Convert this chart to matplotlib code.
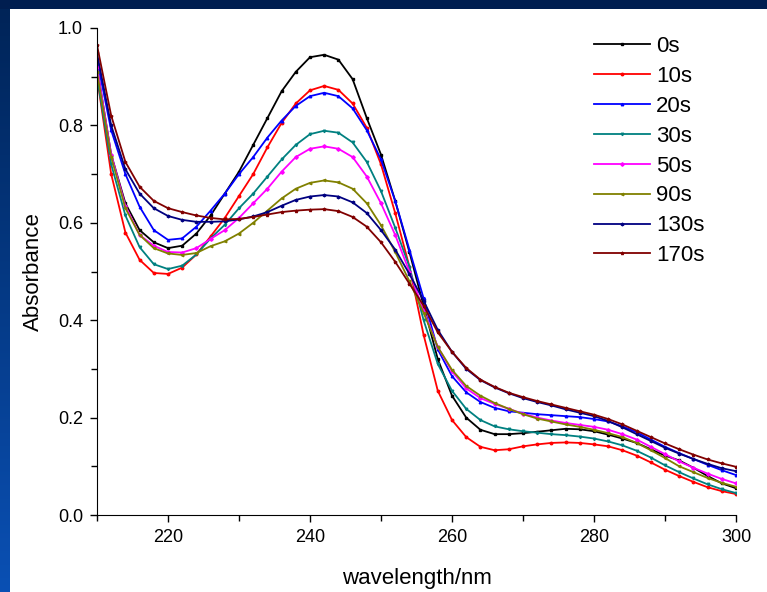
import matplotlib
matplotlib.use("Agg")
import matplotlib.pyplot as plt
import numpy as np

plt.rcParams['font.family'] = ['Liberation Sans', 'DejaVu Sans']

# wavelength grid (nm), one reading every 2 nm
wavelength = np.arange(210, 301, 2)

labels = ['0s', '10s', '20s', '30s', '50s', '90s', '130s', '170s']
colors = ['#000000', '#FF0000', '#0000FF', '#008080', '#FF00FF', '#808000', '#000080', '#800000']
markers = ['s', 'o', '^', 'v', 'D', '<', 'h', 'p']

abs_0s = [0.92, 0.74, 0.64, 0.585, 0.56, 0.548, 0.553, 0.578, 0.615, 0.66,
          0.705, 0.76, 0.815, 0.87, 0.91, 0.94, 0.945, 0.935, 0.895, 0.815,
          0.74, 0.645, 0.54, 0.43, 0.32, 0.245, 0.20, 0.175, 0.166, 0.166,
          0.168, 0.171, 0.174, 0.177, 0.176, 0.172, 0.165, 0.157, 0.148, 0.135,
          0.122, 0.112, 0.097, 0.08, 0.065, 0.055]
abs_10s = [0.90, 0.70, 0.58, 0.524, 0.497, 0.495, 0.508, 0.535, 0.572, 0.61,
           0.655, 0.70, 0.755, 0.805, 0.845, 0.872, 0.881, 0.873, 0.845, 0.795,
           0.72, 0.62, 0.51, 0.37, 0.255, 0.195, 0.16, 0.14, 0.133, 0.135,
           0.141, 0.145, 0.148, 0.149, 0.148, 0.145, 0.141, 0.133, 0.122, 0.108,
           0.093, 0.08, 0.068, 0.057, 0.049, 0.043]
abs_20s = [0.935, 0.79, 0.70, 0.633, 0.585, 0.565, 0.568, 0.592, 0.625, 0.66,
           0.70, 0.735, 0.775, 0.81, 0.84, 0.86, 0.867, 0.86, 0.835, 0.79,
           0.73, 0.645, 0.545, 0.445, 0.34, 0.285, 0.252, 0.232, 0.22, 0.213,
           0.21, 0.207, 0.205, 0.203, 0.201, 0.197, 0.192, 0.182, 0.17, 0.155,
           0.14, 0.127, 0.115, 0.103, 0.092, 0.082]
abs_30s = [0.90, 0.72, 0.615, 0.55, 0.515, 0.505, 0.512, 0.535, 0.568, 0.596,
           0.63, 0.66, 0.695, 0.73, 0.76, 0.782, 0.789, 0.785, 0.765, 0.725,
           0.665, 0.59, 0.51, 0.40, 0.31, 0.255, 0.218, 0.195, 0.182, 0.176,
           0.172, 0.169, 0.166, 0.164, 0.161, 0.157, 0.151, 0.143, 0.132, 0.118,
           0.102, 0.088, 0.075, 0.063, 0.053, 0.045]
abs_50s = [0.92, 0.74, 0.635, 0.575, 0.553, 0.54, 0.539, 0.548, 0.567, 0.585,
           0.61, 0.64, 0.67, 0.705, 0.735, 0.752, 0.757, 0.752, 0.735, 0.695,
           0.64, 0.575, 0.50, 0.42, 0.345, 0.295, 0.26, 0.24, 0.228, 0.218,
           0.208, 0.20, 0.194, 0.189, 0.185, 0.181, 0.175, 0.166, 0.155, 0.14,
           0.125, 0.11, 0.097, 0.085, 0.074, 0.065]
abs_90s = [0.91, 0.735, 0.63, 0.575, 0.548, 0.537, 0.534, 0.538, 0.552, 0.562,
           0.578, 0.60, 0.625, 0.65, 0.67, 0.682, 0.687, 0.683, 0.67, 0.64,
           0.595, 0.54, 0.48, 0.415, 0.345, 0.298, 0.265, 0.245, 0.23, 0.218,
           0.207, 0.198, 0.192, 0.186, 0.181, 0.175, 0.168, 0.16, 0.148, 0.133,
           0.117, 0.10, 0.088, 0.076, 0.066, 0.058]
abs_130s = [0.948, 0.80, 0.71, 0.66, 0.63, 0.614, 0.606, 0.602, 0.602, 0.603,
            0.607, 0.613, 0.622, 0.635, 0.647, 0.654, 0.657, 0.654, 0.642, 0.62,
            0.585, 0.545, 0.495, 0.44, 0.38, 0.335, 0.30, 0.277, 0.262, 0.25,
            0.24, 0.232, 0.225, 0.217, 0.21, 0.203, 0.193, 0.18, 0.166, 0.152,
            0.138, 0.126, 0.115, 0.105, 0.096, 0.09]
abs_170s = [0.965, 0.82, 0.725, 0.674, 0.645, 0.63, 0.622, 0.615, 0.61, 0.607,
            0.608, 0.612, 0.617, 0.622, 0.625, 0.627, 0.628, 0.624, 0.612, 0.592,
            0.56, 0.52, 0.475, 0.43, 0.375, 0.335, 0.302, 0.278, 0.263, 0.251,
            0.242, 0.234, 0.227, 0.22, 0.213, 0.206, 0.197, 0.186, 0.173, 0.16,
            0.147, 0.135, 0.124, 0.114, 0.106, 0.099]

series = [abs_0s, abs_10s, abs_20s, abs_30s, abs_50s, abs_90s, abs_130s, abs_170s]

fig = plt.figure(figsize=(7.67, 5.92), dpi=100, facecolor='white')

# slide-style blue frame: dark top strip, gradient strip on the left
W, H = 767, 592
top_ax = fig.add_axes([0, 1 - 9 / H, 1, 9 / H])
top_ax.set_facecolor('#001e50')
top_ax.set_xticks([]); top_ax.set_yticks([])
for s in top_ax.spines.values():
    s.set_visible(False)
left_ax = fig.add_axes([0, 0, 10 / W, 1 - 9 / H])
grad = np.linspace(0, 1, 256).reshape(-1, 1)
cmap = matplotlib.colors.LinearSegmentedColormap.from_list('band', ['#002458', '#0a50b4'])
left_ax.imshow(grad, aspect='auto', cmap=cmap)
left_ax.axis('off')

ax = fig.add_axes([97 / W, 1 - 515 / H, (736 - 97) / W, (515 - 28) / H])

for y, lab, c, m in zip(series, labels, colors, markers):
    ax.plot(wavelength, y, color=c, marker=m, markersize=1.8, linewidth=1.3, label=lab)

ax.set_xlim(210, 300)
ax.set_ylim(0, 1.0)
ax.set_xticks([220, 240, 260, 280, 300])
ax.set_xticks([210, 230, 250, 270, 290], minor=True)
ax.set_yticks([0.0, 0.2, 0.4, 0.6, 0.8, 1.0])
ax.set_yticks([0.1, 0.3, 0.5, 0.7, 0.9], minor=True)
ax.set_yticklabels(['0.0', '0.2', '0.4', '0.6', '0.8', '1.0'])
ax.tick_params(which='both', direction='out', labelsize=13, width=1)
ax.tick_params(which='major', length=5, pad=5)
ax.tick_params(which='minor', length=4)
ax.spines['top'].set_visible(False)
ax.spines['right'].set_visible(False)

ax.set_xlabel('wavelength/nm', fontsize=16, labelpad=16)
ax.set_ylabel('Absorbance', fontsize=16, labelpad=10)

ax.legend(loc='upper left', bbox_to_anchor=(594 / W, 1 - 36 / H),
          bbox_transform=fig.transFigure, frameon=False, fontsize=16,
          handlelength=2.5, handletextpad=0.3, labelspacing=0.4,
          borderpad=0, borderaxespad=0)

plt.savefig('out.png', dpi=100, facecolor='white')
